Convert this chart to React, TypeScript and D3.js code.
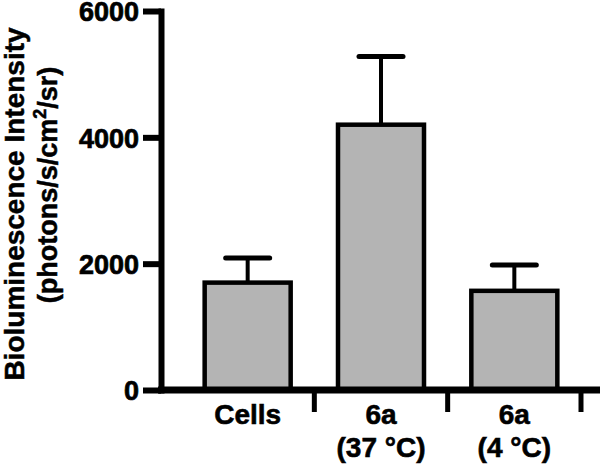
import { useEffect, useRef } from "react";
import * as d3 from "d3";

const categories = ["Cells", "6a (37 °C)", "6a (4 °C)"];
const labelLines = [["Cells"], ["6a", "(37 °C)"], ["6a", "(4 °C)"]];
const means = [1700, 4200, 1570];
const errors = [390, 1080, 410];
const yTicks = [0, 2000, 4000, 6000];

export default function App() {
    const svgRef = useRef<SVGSVGElement>(null);

    useEffect(() => {
        const width = 600,
            height = 467;
        const font = "'Liberation Sans', Arial, sans-serif";

        d3.select(svgRef.current).selectAll("*").remove();
        const svg = d3.select(svgRef.current)
            .attr("width", width)
            .attr("height", height);

        const y = d3.scaleLinear().domain([0, 6000]).range([390, 11]);
        const x = d3.scaleBand()
            .domain(categories)
            .range([181, 581])
            .paddingInner(0.355)
            .paddingOuter(0.1775);

        const data = categories.map((c, i) => ({ c, m: means[i], e: errors[i], lines: labelLines[i] }));

        // bars
        svg.selectAll("rect.bar")
            .data(data)
            .join("rect")
                .attr("class", "bar")
                .attr("x", d => x(d.c)!)
                .attr("y", d => y(d.m))
                .attr("width", x.bandwidth())
                .attr("height", d => y(0) - y(d.m))
                .attr("fill", "#b4b4b4")
                .attr("stroke", "#000")
                .attr("stroke-width", 4.5);

        // error bars (upper only)
        svg.selectAll("line.err")
            .data(data)
            .join("line")
                .attr("class", "err")
                .attr("x1", d => x(d.c)! + x.bandwidth() / 2)
                .attr("x2", d => x(d.c)! + x.bandwidth() / 2)
                .attr("y1", d => y(d.m))
                .attr("y2", d => y(d.m + d.e))
                .attr("stroke", "#000")
                .attr("stroke-width", 4);

        svg.selectAll("line.cap")
            .data(data)
            .join("line")
                .attr("class", "cap")
                .attr("x1", d => x(d.c)! + x.bandwidth() / 2 - 22)
                .attr("x2", d => x(d.c)! + x.bandwidth() / 2 + 22)
                .attr("y1", d => y(d.m + d.e))
                .attr("y2", d => y(d.m + d.e))
                .attr("stroke", "#000")
                .attr("stroke-width", 5)
                .attr("stroke-linecap", "round");

        // y axis
        const yAxis = svg.append("g")
            .attr("transform", "translate(161,0)")
            .call(d3.axisLeft(y).tickValues(yTicks).tickFormat(d3.format("d")).tickSize(18).tickSizeOuter(0).tickPadding(4));
        yAxis.select(".domain").attr("stroke-width", 6).attr("stroke-linecap", "square");
        yAxis.selectAll(".tick line").attr("stroke-width", 6);
        yAxis.selectAll(".tick text")
            .attr("font-family", font)
            .attr("font-weight", "bold")
            .attr("font-size", 27)
            .attr("fill", "#000")
            .attr("stroke", "#000")
            .attr("stroke-width", 0.7)
            .attr("dy", "0.36em");

        // x axis line and ticks between groups
        svg.append("line")
            .attr("x1", 158)
            .attr("x2", width)
            .attr("y1", y(0))
            .attr("y2", y(0))
            .attr("stroke", "#000")
            .attr("stroke-width", 7);

        svg.selectAll("line.xtick")
            .data(data)
            .join("line")
                .attr("class", "xtick")
                .attr("x1", d => x(d.c)! + x.bandwidth() + (x.step() - x.bandwidth()) / 2)
                .attr("x2", d => x(d.c)! + x.bandwidth() + (x.step() - x.bandwidth()) / 2)
                .attr("y1", y(0))
                .attr("y2", 412)
                .attr("stroke", "#000")
                .attr("stroke-width", 5);

        // category labels
        const labels = svg.selectAll("text.cat")
            .data(data)
            .join("text")
                .attr("class", "cat")
                .attr("text-anchor", "middle")
                .attr("font-family", font)
                .attr("font-weight", "bold")
                .attr("font-size", 28)
                .attr("stroke", "#000")
                .attr("stroke-width", 0.6)
                .attr("x", d => x(d.c)! + x.bandwidth() / 2)
                .attr("y", 424);
        labels.selectAll("tspan")
            .data(d => d.lines.map(t => ({ t, cx: x(d.c)! + x.bandwidth() / 2 })))
            .join("tspan")
                .attr("x", d => d.cx)
                .attr("dy", (d, i) => (i === 0 ? 0 : 33))
                .text(d => d.t);

        // y-axis title
        svg.append("text")
            .attr("transform", "translate(24,204) rotate(-90)")
            .attr("text-anchor", "middle")
            .attr("font-family", font)
            .attr("font-weight", "bold")
            .attr("font-size", 28)
            .attr("stroke", "#000")
            .attr("stroke-width", 0.5)
            .text("Bioluminescence Intensity");

        const sub = svg.append("text")
            .attr("transform", "translate(57,185) rotate(-90)")
            .attr("text-anchor", "middle")
            .attr("font-family", font)
            .attr("font-weight", "bold")
            .attr("font-size", 27)
            .attr("stroke", "#000")
            .attr("stroke-width", 0.5);
        sub.append("tspan").text("(photons/s/cm");
        sub.append("tspan").attr("font-size", 18).attr("dy", -11).text("2");
        sub.append("tspan").attr("dy", 11).text("/sr)");
    }, []);

    return (
        <svg ref={svgRef} style={{ position: "absolute", left: 0, top: 0 }}></svg>
    );
}
